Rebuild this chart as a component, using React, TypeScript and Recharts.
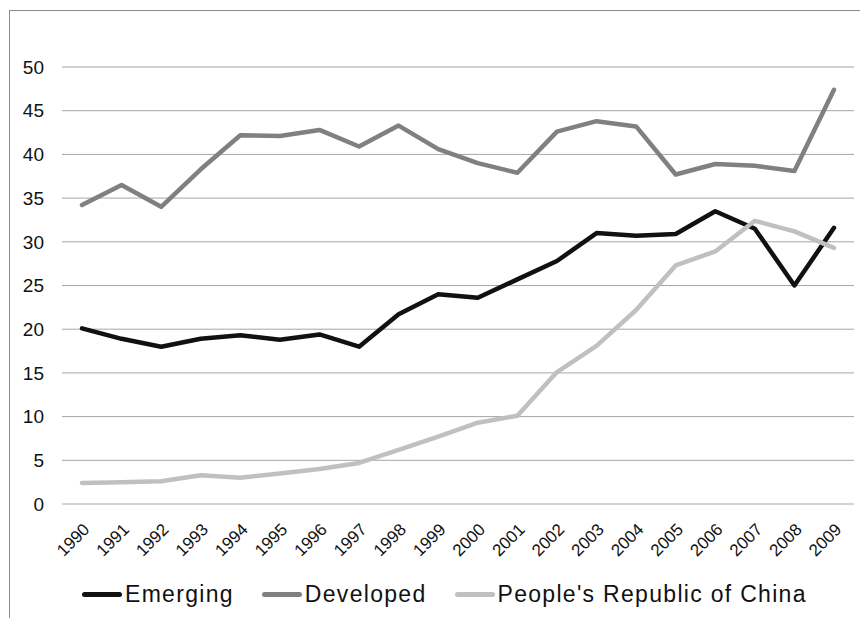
import React from 'react';
import { LineChart, Line, XAxis, YAxis, CartesianGrid, Legend } from 'recharts';

const years = ['1990','1991','1992','1993','1994','1995','1996','1997','1998','1999','2000','2001','2002','2003','2004','2005','2006','2007','2008','2009'];
const emerging = [20.1, 18.9, 18.0, 18.9, 19.3, 18.8, 19.4, 18.0, 21.7, 24.0, 23.6, 25.7, 27.8, 31.0, 30.7, 30.9, 33.5, 31.5, 25.0, 31.6];
const developed = [34.2, 36.5, 34.0, 38.3, 42.2, 42.1, 42.8, 40.9, 43.3, 40.6, 39.0, 37.9, 42.6, 43.8, 43.2, 37.7, 38.9, 38.7, 38.1, 47.4];
const china = [2.4, 2.5, 2.6, 3.3, 3.0, 3.5, 4.0, 4.7, 6.2, 7.7, 9.3, 10.1, 15.1, 18.1, 22.2, 27.3, 28.9, 32.4, 31.2, 29.3];
const yTicks = [0, 5, 10, 15, 20, 25, 30, 35, 40, 45, 50];

const seriesNames = ['Emerging', 'Developed', "People's Republic of China"];
const seriesColors = ['#111111', '#808080', '#c0c0c0'];

const data = years.map((y, i) => ({
  year: y,
  [seriesNames[0]]: emerging[i],
  [seriesNames[1]]: developed[i],
  [seriesNames[2]]: china[i],
}));

const FONT = '"Liberation Sans", Arial, sans-serif';

const LegendContent = () => (
  <div style={{ height: 40, display: 'flex', alignItems: 'center', paddingLeft: 82, fontFamily: FONT, fontSize: 23, letterSpacing: 1.3, color: '#111' }}>
    {seriesNames.map((n, i) => (
      <div key={n} style={{ display: 'flex', alignItems: 'center', marginRight: 28 }}>
        <div style={{ width: 40, height: 5, borderRadius: 3, background: seriesColors[i], marginRight: 3 }} />
        <span style={{ whiteSpace: 'nowrap' }}>{n}</span>
      </div>
    ))}
  </div>
);

export default function App() {
  return (
    <div style={{ position: 'absolute', left: 0, top: 0, width: 860, height: 618, overflow: 'hidden', background: '#fff' }}>
      <div style={{ position: 'absolute', left: 9, top: 10, width: 900, height: 700, borderLeft: '1.5px solid #8a8a8a', borderTop: '1.5px solid #8a8a8a' }} />
      <div style={{ position: 'absolute', left: 0, top: 0 }}>
        <LineChart width={860} height={618} data={data} margin={{ top: 67, right: 6, left: 0, bottom: 4 }}>
          <CartesianGrid vertical={false} stroke="#a6a6a6" strokeWidth={1} />
          <XAxis
            dataKey="year"
            interval={0}
            angle={-45}
            textAnchor="end"
            height={70}
            padding={{ left: 20, right: 20 }}
            axisLine={false}
            tickLine={false}
            tickMargin={12}
            tick={{ fontSize: 17, fill: '#111', fontFamily: FONT }}
          />
          <YAxis
            domain={[0, 50]}
            ticks={yTicks}
            width={62}
            axisLine={false}
            tickLine={false}
            tickMargin={12}
            tick={{ fontSize: 19, fill: '#111', fontFamily: FONT }}
          />
          <Legend verticalAlign="bottom" content={<LegendContent />} />
          {seriesNames.map((n, i) => (
            <Line
              key={n}
              type="linear"
              dataKey={n}
              stroke={seriesColors[i]}
              strokeWidth={4.5}
              strokeLinecap="round"
              strokeLinejoin="round"
              dot={false}
              activeDot={false}
              isAnimationActive={false}
            />
          ))}
        </LineChart>
      </div>
    </div>
  );
}
